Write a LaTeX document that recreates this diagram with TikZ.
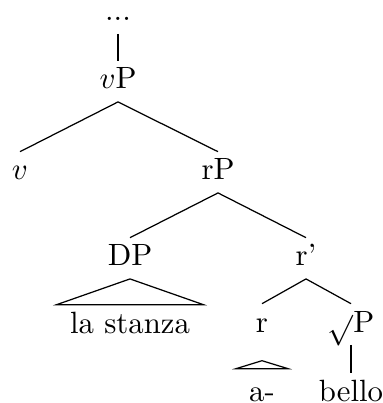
\documentclass[tikz,border=0pt]{standalone}
\usepackage{tikz}
\usetikzlibrary{calc}

\begin{document}
\begin{tikzpicture}[
			x=0.325pt, y=-0.325pt,
			lbl/.style={anchor=base, inner sep=2pt, text height=7pt, text depth=2pt},
			roof/.style={lbl, inner xsep=4.2pt},
			branch/.style={draw, line width=0.4pt}
		]
		\useasboundingbox (0,0) rectangle (382,403);

		% Upper Spine
		\node[anchor=base, inner sep=2pt, text depth=2pt] (dots) at (118,21) {...};
		\node[lbl] (vP) at (118,89) {$v$P};
		\node[lbl] (v) at (20,180) {$v$};
		\node[lbl] (rP) at (218,180) {rP};

		% Lower Tree
		\node[lbl] (DP) at (130,266) {DP};
		\node[lbl] (rbar) at (306,266) {r'};
		\node[roof] (stanza) at (130,333) {la stanza};
		\node[lbl] (r) at (262,332) {r};
		\node[lbl] (rootP) at (351,332) {$\sqrt{}$P};
		\node[roof, inner xsep=4.1pt, inner ysep=3.3pt] (a) at (262,401) {a-};
		\node[lbl] (bello) at (351,401) {bello};

		% Branches
		\draw[branch] (dots.south) -- (vP.north);
		\draw[branch] (vP.south) -- (v.north);
		\draw[branch] (vP.south) -- (rP.north);
		\draw[branch] (rP.south) -- (DP.north);
		\draw[branch] (rP.south) -- (rbar.north);
		\draw[branch] (rbar.south) -- (r.north);
		\draw[branch] (rbar.south) -- (rootP.north);
		\draw[branch] (rootP.south) -- (bello.north);

		% Roofs
		\draw[branch] (DP.south) -- (stanza.north west) -- (stanza.north east) -- cycle;
		\draw[branch] (a.north west) -- ($(a.north)+(0,-8)$) -- (a.north east) -- cycle;

		\end{tikzpicture}
\end{document}
